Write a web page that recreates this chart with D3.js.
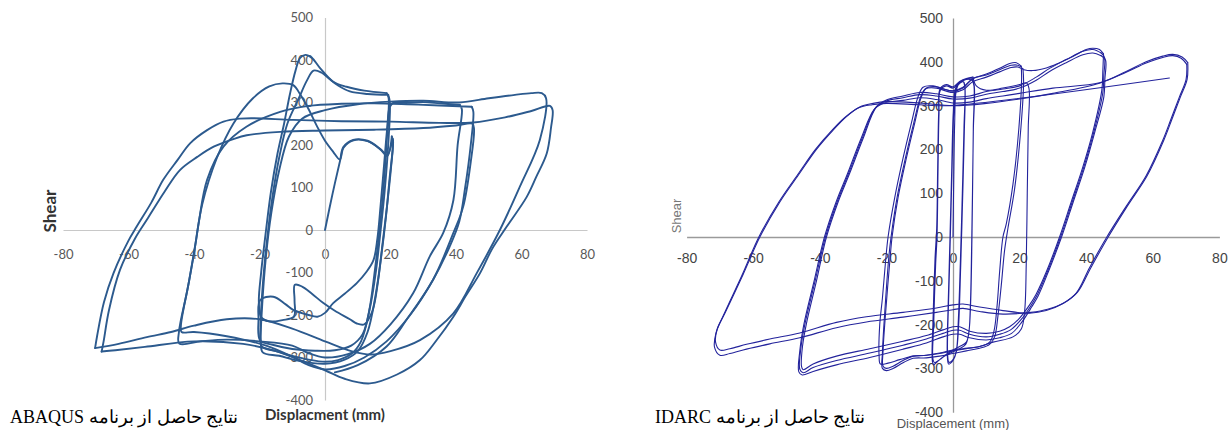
<!DOCTYPE html>
<html><head><meta charset="utf-8">
<script src="https://cdn.jsdelivr.net/npm/d3@7"></script>
<style>body{margin:0;background:#fff}svg{display:block}</style>
</head><body>
<svg id="c" width="1229" height="430"></svg>
<script>
// ---------- tick labels ----------
const xTicks = [-80,-60,-40,-20,0,20,40,60,80];
const yTicks = [-400,-300,-200,-100,0,100,200,300,400,500];

// ---------- ABAQUS results (displacement mm, shear) ----------
const abaqusLoop1 = [[0,0],[2.3,85],[4.6,163],[5.6,195],[8.6,212],[13,210],[17,190],[19,176],[20.8,215],[20.2,150],[19,60],[17.6,-30],[16.2,-120],[14.5,-190],[12,-222],[9.7,-220],[7.6,-210],[3,-190],[-0.5,-172],[-4,-150],[-7,-133],[-9.2,-129],[-9.3,-165],[-9.5,-204],[-13,-212],[-17,-215],[-19.5,-205],[-20.2,-170],[-19.5,-100],[-18,0],[-16.5,90],[-14.5,180],[-12.5,250],[-10.7,320],[-9,375],[-7.6,405],[-6,412],[-4,405],[-1.5,381],[2.5,349],[6.6,337],[12,328],[18.8,322]];
const abaqusLoop2 = [[18.8,322],[19.4,312],[19,230],[18,110],[16.8,10],[15.3,-90],[13.5,-190],[11,-262],[8,-292],[4,-306],[0,-310],[-5,-305],[-10,-296],[-15,-285],[-19.3,-274],[-19.7,-230],[-18.9,-120],[-17.5,-10],[-16,80],[-14,170],[-11.5,250],[-8,310],[-5.5,352],[-3.5,375],[-1,370],[1.1,357],[4,340],[7.6,326],[13,320],[19.3,318]];
const abaqusLoop3 = [[19.3,318],[19.8,300],[19.3,200],[18.2,90],[17,0],[15.5,-100],[13.8,-180],[11.5,-245],[8,-272],[3,-283],[-3,-284],[-10,-280],[-16,-270],[-19.8,-260],[-20.3,-210],[-19.8,-165],[-15.8,-157],[-12,-175],[-9.7,-188],[-5,-200],[-2.3,-204],[0,-195],[2.5,-172],[6,-150],[9.7,-125],[12.5,-100],[14.8,-71],[16,-20],[17,60],[18,150],[19,240],[19.8,290],[21,300],[25,299],[30,301],[35,298],[41.2,294]];
const abaqusLoop4 = [[41.2,294],[41.8,284],[40.5,200],[39.2,70],[36.1,-7],[32,-62],[26.9,-149],[20,-222],[13.7,-268],[7,-292],[0,-300],[-5,-290],[-10,-272],[-20,-262],[-30,-258],[-38,-262],[-44.5,-267],[-44.6,-240],[-42,-140],[-40,-55],[-38.5,20],[-36,118],[-31,196],[-24,243],[-13.7,278],[-5,292],[5,297],[15,298],[25,296],[35,293],[44.8,290]];
const abaqusLoop5 = [[44.8,290],[45.3,278],[44.5,200],[42.8,100],[41,20],[38,-40],[33,-117],[26,-200],[18.8,-262],[12,-300],[6,-320],[0,-328],[-5,-318],[-10,-298],[-18,-272],[-30,-250],[-40,-240],[-43.8,-240],[-44,-225],[-41.5,-120],[-39.5,-30],[-37.5,60],[-33,170],[-28,250],[-22,310],[-17,338],[-13,345],[-9.7,341],[-7.5,318],[-5,284],[-2.5,245],[0,210],[2.5,184],[4.5,166],[5.7,194],[8.7,211],[13,209],[17,189],[19,174],[20.4,220]];
const abaqusLoop6 = [[20.4,220],[20.7,200],[19.7,120],[18.6,30],[17.2,-60],[15.3,-160],[13,-240],[10,-285],[6,-305],[0,-315],[-8,-308],[-14,-296],[-19,-288],[-19.6,-260],[-19.2,-180],[-18,-60],[-16.4,40],[-14,140],[-11,220],[-7,262],[0,282],[10,296],[20,302],[30,304],[41,300],[50,310],[58,318],[63,322],[66.2,322],[67.5,310],[65.6,212],[59.5,102],[53.4,0],[46.3,-102],[39.2,-196],[29,-259],[20,-285],[14,-293],[8,-285],[0,-262],[-10,-232],[-20,-210],[-30,-210],[-40,-225],[-47,-240],[-54.4,-252],[-63,-268],[-70.2,-278]];
const abaqusLoop7 = [[-70.2,-278],[-69.6,-250],[-67.5,-170],[-64.6,-102],[-60,-25],[-57.5,8],[-53,65],[-49.4,118],[-45,165],[-41.2,204],[-36,235],[-31,255],[-26,262],[-21.9,263],[-9.7,259],[5,256],[20,255],[35,252],[45.3,253],[55,265],[63,280],[68.7,292],[69.5,282],[69,240],[67.7,180],[64.5,125],[61.6,78],[55.5,8],[51,-45],[47.3,-102],[43,-155],[39.2,-204],[34,-260],[29,-306],[22,-340],[13.7,-361],[6,-350],[0,-330],[-8,-305],[-15,-285],[-25,-268],[-40,-262],[-55,-275],[-64,-283],[-68.2,-286]];
const abaqusLoop8 = [[-68.2,-286],[-67.6,-262],[-66,-190],[-62.6,-94],[-58,-20],[-54.4,24],[-49,90],[-44.3,141],[-39,172],[-34,196],[-28,214],[-23.9,223],[-13.7,231],[0,234],[15,236],[30,240],[40,246],[45,250],[45.5,238],[44.5,160],[42.2,55],[39.2,-7],[33,-117],[25,-210],[18.8,-274],[10,-318],[3,-335]];

// ---------- IDARC results (displacement mm, shear) ----------
const idarcLoop1 = [[0,0],[0.2,120],[0.5,260],[0.9,330],[1.8,350],[3,355],[3.5,345],[3.3,250],[2.8,100],[2.2,-60],[1.6,-190],[1.0,-260],[0,-280],[-1.2,-286],[-1.6,-270],[-1.3,-140],[-0.8,0],[-0.3,150],[0.2,280],[0.9,338],[2.2,352],[3.2,354],[3.6,340],[3.4,240],[2.9,90],[2.3,-70],[1.7,-200],[1.0,-262],[0,-282],[-1.3,-290],[-1.7,-272],[-1.4,-140],[-0.9,0],[-0.4,150],[0.1,285],[0.8,340],[2.5,356],[4.5,360],[5.8,358]];
const idarcLoop2 = [[5.8,358],[6.3,345],[6.1,250],[5.7,0],[5.3,-150],[4.8,-215],[4,-240],[2,-250],[0,-258],[-2,-268],[-4,-280],[-5.5,-287],[-6,-280],[-5.8,-200],[-5.2,-60],[-4.8,0],[-4.5,150],[-4.2,280],[-3.8,335],[-2,345],[0,340],[2,352],[4,360],[5.5,362],[6.3,350],[6.1,240],[5.6,-20],[5.2,-160],[4.7,-222],[3.8,-245],[2,-255],[0,-262],[-2.5,-272],[-4.5,-283],[-5.8,-292],[-6.2,-283],[-6,-190],[-5.4,-50],[-4.9,20],[-4.6,160],[-4.3,285],[-3.9,338],[-2,348],[0,343],[2,355],[4,362],[6,365]];
const idarcLoop3 = [[6,365],[7,345],[10,335],[15,340],[20,348],[22,352],[22.8,340],[22.6,250],[22.3,100],[22,-60],[21.5,-170],[20.5,-210],[18,-228],[12,-240],[8,-250],[3,-255],[0,-258],[-4,-265],[-8,-270],[-12,-272],[-16,-280],[-19.5,-288],[-21.8,-290],[-22.2,-270],[-22,-200],[-21.2,-140],[-20.3,-60],[-19.5,0],[-17.5,90],[-15,180],[-12.5,260],[-10.5,320],[-9,342],[-6,345],[-3,338],[0,334],[3,342],[6,362],[10,372],[14,385],[17,396],[19,398],[20.5,390]];
const idarcLoop4 = [[20.5,390],[20.6,360],[19.8,250],[18,120],[16,30],[15,0],[14,-80],[13.2,-160],[12.3,-215],[11,-240],[8,-250],[4,-255],[0,-260],[-4,-266],[-8,-270],[-12,-272],[-15,-282],[-18,-295],[-20,-300],[-21,-295],[-21,-260],[-20,-150],[-18.8,-40],[-18.3,0],[-16.5,90],[-14,180],[-11.5,260],[-9.5,320],[-8,340],[-5,343],[-2,336],[0,333],[3,340],[6,362],[10,370],[14,382],[17.5,392],[19.5,392],[21,384]];
const idarcLoop5 = [[21,384],[21.2,355],[20.4,250],[18.5,110],[16.5,20],[15.5,-30],[14.5,-110],[13.5,-180],[12.5,-228],[11,-245],[8,-254],[4,-260],[0,-266],[-4,-272],[-8,-276],[-12,-277],[-15,-287],[-18,-300],[-20,-305],[-21.2,-300],[-21.2,-265],[-20.3,-150],[-19.2,-40],[-18.6,0],[-16.8,90],[-14.3,180],[-11.8,260],[-9.8,318],[-8.3,338],[-5,340],[-2,333],[0,330],[3,336],[6,355],[10,365],[14,377],[17.5,387],[19.5,388],[21.3,382],[24,380],[28,386],[32,398],[36,412],[40,428],[42,431],[44,428],[45.2,418]];
const idarcLoop6 = [[45.2,418],[45,380],[44.7,336],[42,240],[39,160],[35.5,80],[32,0],[28,-80],[25,-130],[23,-155],[20,-185],[17,-205],[14,-215],[10,-220],[5,-215],[2,-205],[0,-205],[-3,-212],[-8,-225],[-15,-238],[-25,-255],[-35,-272],[-42,-290],[-45,-303],[-45.5,-295],[-45.2,-250],[-44,-197],[-41,-100],[-38,0],[-34.5,80],[-31,146],[-27,225],[-23,297],[-20,313],[-15,322],[-10,330],[-5,327],[0,320],[5,322],[10,332],[15,338],[20,345],[25,365],[29,385],[34,405],[39,424],[42,428],[44.5,420]];
const idarcLoop7 = [[44.5,420],[45.5,410],[45.3,370],[45,330],[42.3,240],[39.3,160],[35.8,80],[32.3,0],[28.3,-80],[25.3,-132],[23.3,-158],[20.3,-190],[17.3,-212],[14,-222],[10,-228],[5,-222],[2,-213],[0,-213],[-3,-220],[-8,-233],[-15,-247],[-25,-265],[-35,-282],[-42,-298],[-45,-310],[-46,-302],[-45.7,-255],[-44.5,-200],[-41.4,-100],[-38.3,0],[-34.8,80],[-31.3,146],[-27.3,225],[-23.3,295],[-20.3,310],[-15,318],[-10,325],[-5,322],[0,315],[5,317],[10,326],[15,332],[20,340],[25,358],[29,378],[34,398],[39,416],[42,420],[44.5,414]];
const idarcLoop8 = [[44.5,414],[45.8,404],[45.6,360],[45.3,320],[42.6,240],[39.6,160],[36.1,80],[32.6,0],[28.6,-80],[25.6,-134],[23.6,-160],[20.6,-195],[17.6,-220],[14,-230],[10,-235],[5,-230],[2,-222],[0,-222],[-3,-228],[-8,-242],[-15,-256],[-25,-275],[-35,-292],[-42,-307],[-45.3,-315],[-46.3,-308],[-46,-260],[-44.8,-200],[-41.7,-100],[-38.6,0],[-35.1,80],[-31.6,146],[-27.6,225],[-23.6,292],[-20.6,306],[-15,312],[-10,318],[-5,314],[0,306],[5,308],[10,316],[15,322],[20,328],[30,340],[44,352],[52,376],[58,397],[63,410],[66,414],[68.5,408],[70.2,394]];
const idarcLoop9 = [[70.2,394],[70,360],[68,320],[65.5,270],[63,221],[58,140],[52,70],[46.2,0],[41,-70],[37,-128],[33,-152],[28,-168],[23,-174],[15,-168],[8,-160],[3,-153],[0,-155],[-5,-162],[-15,-172],[-26,-182],[-35,-195],[-46,-219],[-55,-233],[-62,-245],[-67,-255],[-70,-258],[-71.3,-240],[-70.8,-210],[-68.5,-174],[-63,-85],[-58,0],[-52,80],[-46,146],[-41,200],[-36,244],[-32,275],[-28,297],[-24,305],[-20,309],[-10,306],[0,300],[10,305],[20,315],[30,328],[44,351],[52,378],[58,400],[63,413],[66,417],[68.8,411],[70.5,398]];
const idarcLoop10 = [[70.5,398],[70.3,360],[68.3,320],[65.8,270],[63.3,221],[58.3,140],[52.3,70],[46.6,0],[41.4,-70],[37.4,-126],[33.4,-150],[28.4,-165],[23.4,-172],[15,-176],[8,-170],[3,-163],[0,-166],[-5,-172],[-15,-183],[-26,-194],[-35,-207],[-46,-230],[-55,-244],[-62,-256],[-67,-266],[-70,-270],[-71.6,-252],[-71.2,-220],[-69,-180],[-63.4,-88],[-58.3,0],[-52.3,80],[-46.3,146],[-41.3,200],[-36.3,244],[-32.3,274],[-28.3,295],[-24.3,302],[-20,305],[-10,302],[-1,300],[65,363]];

const abaqusLoops = [abaqusLoop1,abaqusLoop2,abaqusLoop3,abaqusLoop4,abaqusLoop5,abaqusLoop6,abaqusLoop7,abaqusLoop8];
const idarcLoops = [idarcLoop1,idarcLoop2,idarcLoop3,idarcLoop4,idarcLoop5,idarcLoop6,idarcLoop7,idarcLoop8,idarcLoop9,idarcLoop10];

const svg = d3.select("#c");
const plain = d => String(d); // hyphen-minus like the reference

function panel(o) {
  const x = d3.scaleLinear().domain([-80,80]).range(o.xr);
  const y = d3.scaleLinear().domain([-400,500]).range(o.yr);
  const g = svg.append("g");
  const ax = g.append("g").attr("transform", `translate(0,${y(0)})`)
    .call(d3.axisBottom(x).tickValues(xTicks).tickFormat(plain).tickSize(0).tickPadding(o.xPad).tickSizeOuter(0));
  const ay = g.append("g").attr("transform", `translate(${x(0)},0)`)
    .call(d3.axisLeft(y).tickValues(yTicks).tickFormat(plain).tickSize(0).tickPadding(o.yPad).tickSizeOuter(0));
  [ax, ay].forEach(a => {
    a.select(".domain").attr("stroke", o.axisColor).attr("stroke-width", o.axisWidth);
    a.selectAll("text").attr("font-family", o.font).attr("font-size", o.fontSize).attr("fill", o.tickColor);
  });
  const line = d3.line().x(d => x(d[0])).y(d => y(d[1])).curve(d3.curveCatmullRom.alpha(0.5));
  g.append("g").selectAll("path").data(o.loops).join("path")
    .attr("d", line).attr("fill", "none").attr("stroke", o.color)
    .attr("stroke-width", o.width).attr("stroke-linejoin", "round").attr("stroke-linecap", "round");
  g.append("text").attr("transform", `translate(${o.shearPos[0]},${o.shearPos[1]}) rotate(-90)`)
    .attr("text-anchor", "middle").attr("font-family", o.titleFont).attr("font-size", o.shearSize)
    .attr("font-weight", o.titleWeight).attr("fill", o.titleColor).text("Shear");
  g.append("text").attr("x", x(0)).attr("y", o.dispY).attr("text-anchor", "middle")
    .attr("font-family", o.titleFont).attr("font-size", o.dispSize)
    .attr("font-weight", o.titleWeight).attr("fill", o.dispColor).text(o.dispText);
  g.append("text").attr("x", o.capX).attr("y", 423).attr("direction", "rtl").attr("text-anchor", "end")
    .attr("font-family", "Liberation Serif, 'Times New Roman', serif").attr("font-size", 18)
    .attr("fill", "#000").text(o.caption);
}

panel({
  xr: [63, 587], yr: [400, 17.5], xPad: 20, yPad: 12,
  axisColor: "#c8c8c8", axisWidth: 1.2,
  font: "Lato, 'Open Sans', sans-serif", fontSize: 13, tickColor: "#595959",
  loops: abaqusLoops, color: "#2c5a8e", width: 1.9,
  titleFont: "Lato, 'Open Sans', sans-serif", titleWeight: "bold", titleColor: "#333", dispColor: "#333",
  shearPos: [56, 211], shearSize: 17, dispY: 420, dispSize: 15, dispText: "Displacment (mm)",
  capX: 10, caption: "نتایج حاصل از برنامه ABAQUS"
});

panel({
  xr: [686.6, 1219.4], yr: [412.2, 18], xPad: 16, yPad: 10,
  axisColor: "#9a9a9a", axisWidth: 1.3,
  font: "'Liberation Sans', Arial, sans-serif", fontSize: 14, tickColor: "#444",
  loops: idarcLoops, color: "#23239c", width: 1.1,
  titleFont: "'Liberation Sans', Arial, sans-serif", titleWeight: "normal", titleColor: "#777", dispColor: "#555",
  shearPos: [681, 216], shearSize: 13, dispY: 428, dispSize: 13, dispText: "Displacement (mm)",
  capX: 655, caption: "نتایج حاصل از برنامه IDARC"
});
</script>
</body></html>
